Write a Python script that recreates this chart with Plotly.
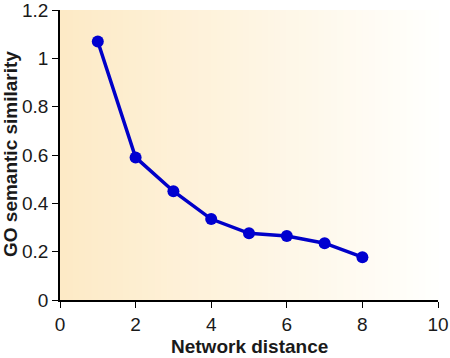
import plotly.graph_objects as go

network_distance = [1, 2, 3, 4, 5, 6, 7, 8]
go_similarity = [1.07, 0.59, 0.45, 0.335, 0.276, 0.265, 0.235, 0.177]
x_ticks = [0, 2, 4, 6, 8, 10]
y_ticks = [0, 0.2, 0.4, 0.6, 0.8, 1, 1.2]
y_tick_labels = ["0", "0.2", "0.4", "0.6", "0.8", "1", "1.2"]
x_title = "Network distance"
y_title = "GO semantic similarity"

W, H = 450, 358
ML, MR, MT, MB = 60, 12, 10, 58
PW, PH = W - ML - MR, H - MT - MB

fig = go.Figure()
fig.add_trace(go.Scatter(
    x=network_distance, y=go_similarity, mode="lines+markers",
    line=dict(color="#0000C8", width=3.5),
    marker=dict(color="#0000D0", size=12),
    showlegend=False, hoverinfo="skip",
))

# gradient background (cream on left fading to white on right)
n = 60
left = (253, 234, 198)
right = (255, 255, 253)
shapes = []
for i in range(n):
    t = i / (n - 1)
    c = tuple(int(round(left[k] + (right[k] - left[k]) * t)) for k in range(3))
    shapes.append(dict(type="rect", xref="x domain", yref="y domain",
                       x0=i / n, x1=(i + 1) / n + 0.002, y0=0, y1=1,
                       fillcolor="rgb(%d,%d,%d)" % c, line=dict(width=0), layer="below"))

annotations = [
    dict(text="<b>%s</b>" % x_title, xref="paper", yref="paper",
         x=0.5, y=(H - MB - 346) / PH, xanchor="center", yanchor="middle",
         showarrow=False, font=dict(size=19)),
    dict(text="<b>%s</b>" % y_title, xref="paper", yref="paper",
         x=(10 - ML) / PW, y=(H - MB - 154) / PH, xanchor="center", yanchor="middle",
         textangle=-90, showarrow=False, font=dict(size=19)),
]

fig.update_layout(
    width=W, height=H,
    margin=dict(l=ML, r=MR, t=MT, b=MB),
    paper_bgcolor="white", plot_bgcolor="white",
    shapes=shapes, annotations=annotations,
    font=dict(family="Liberation Sans, Arial, sans-serif", color="#1a1a1a"),
    xaxis=dict(range=[0, 10], tickvals=x_ticks, ticks="outside", ticklen=6,
               showline=True, linecolor="black", linewidth=1.5, showgrid=False,
               zeroline=False, tickfont=dict(size=19), tickcolor="black",
               automargin=False, ticklabeloverflow="allow"),
    yaxis=dict(range=[0, 1.2], tickvals=y_ticks, ticktext=y_tick_labels,
               ticks="outside", ticklen=6, tickcolor="black",
               showline=True, linecolor="black", linewidth=1.5, showgrid=False,
               zeroline=False, tickfont=dict(size=19), automargin=False,
               ticklabeloverflow="allow"),
)

fig.write_html("out.html")
